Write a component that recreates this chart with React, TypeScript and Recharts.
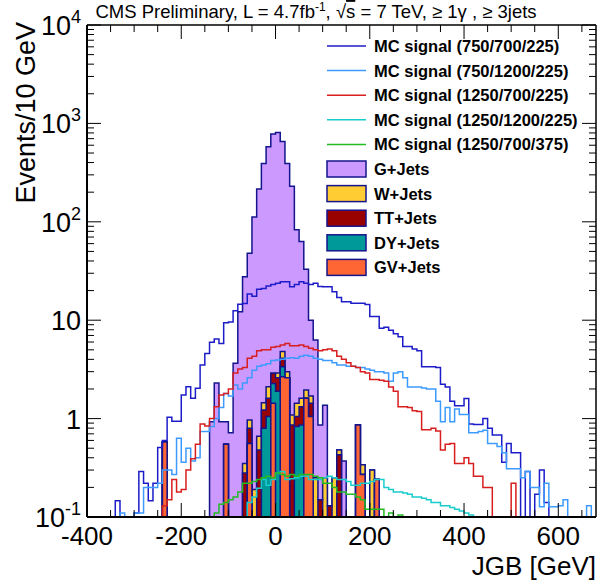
import React from 'react';
import { ComposedChart, Area, Line, XAxis, YAxis, Legend } from 'recharts';

const FONT = "'Liberation Sans', Arial, Helvetica, sans-serif";

// Histogram binning (GeV)
const BIN_START = -400;
const BIN_WIDTH = 10;
const N_BINS = 108;
const X_MAX = 680;
const Y_FLOOR = 0.1;
const Y_MAX = 10000;

// ---- MC signal histograms (events / 10 GeV), bins from their start edge ----
const sig1Start = -400; // MC signal (750/700/225)
const sig1Values = [
  0.1, 0.1, 0.1, 0.1, 0.1, 0.1, 0.146, 0.1, 0.1, 0.1,
  0.11, 0.29, 0.22, 0.146, 0.22, 0.51, 0.6, 1.03, 0.94, 0.94,
  1.74, 2.11, 1.61, 2.03, 3.5, 4.6, 5.96, 6.45, 5.8, 9.4,
  9.6, 12.5, 14.5, 14.8, 18.5, 17.5, 20.6, 21, 22.3, 23,
  23.7, 24.6, 24.6, 21.9, 23, 24.6, 23.7, 23, 23.7, 22,
  21.9, 21.9, 19.5, 17, 15.4, 15.4, 14.9, 14.9, 14.9, 14.4,
  10.9, 10.9, 8.3, 8.5, 7.9, 7.3, 6.8, 5.4, 5.4, 5.1,
  4.9, 3.37, 3.37, 3.37, 3.3, 2.23, 2.1, 1.5, 1.35, 1.35,
  1.6, 0.88, 0.87, 0.87, 1.0, 0.8, 0.68, 0.68, 0.36, 0.56,
  0.45, 0.45, 0.1, 0.29, 0.1, 0.17, 0.3, 0.14, 0.1, 0.1,
];
const sig2Start = -400; // MC signal (750/1200/225)
const sig2Values = [
  0.1, 0.1, 0.1, 0.1, 0.1, 0.1, 0.1, 0.11, 0.1, 0.1,
  0.11, 0.11, 0.2, 0.2, 0.2, 0.22, 0.3, 0.3, 0.27, 0.63,
  0.36, 0.5, 0.37, 0.4, 0.74, 0.74, 0.83, 1.0, 1.3, 1.8,
  1.7, 2.2, 2.0, 2.3, 2.6, 3.1, 3.4, 3.5, 3.6, 3.9,
  3.94, 4.0, 4.1, 4.15, 4.1, 4.3, 4.4, 4.3, 4.1, 4.0,
  3.9, 3.9, 3.7, 3.5, 3.5, 3.4, 3.4, 3.3, 3.3, 3.2,
  3.1, 3.0, 3.0, 2.9, 2.4, 2.9, 3.0, 2.6, 2.1, 2.1,
  2.1, 2.05, 2.0, 2.0, 1.5, 0.93, 1.3, 0.93, 1.25, 1.1,
  1.1, 0.72, 0.72, 0.74, 0.76, 0.56, 0.56, 0.52, 0.45, 0.31,
  0.31, 0.31, 0.25, 0.29, 0.2, 0.2, 0.127, 0.22, 0.127, 0.127,
  0.13, 0.15, 0.1, 0.1, 0.1, 0.1, 0.13, 0.1,
];
const sig3Start = -250; // MC signal (1250/700/225)
const sig3Values = [
  0.1, 0.13, 0.15, 0.24, 0.18, 0.19, 0.3, 0.39, 0.55, 0.88,
  0.84, 1.0, 1.32, 1.74, 1.8, 2.0, 2.9, 3.2, 3.3, 4.1,
  4.3, 4.9, 5.0, 5.0, 5.3, 5.4, 5.6, 5.8, 5.5, 5.5,
  5.6, 5.4, 5.2, 5.0, 4.9, 5.0, 5.1, 4.9, 4.3, 4.0,
  3.7, 3.4, 3.3, 3.0, 2.9, 2.5, 2.5, 2.45, 2.4, 2.1,
  1.9, 1.32, 1.32, 1.3, 1.2, 1.18, 0.77, 0.77, 0.8, 0.75,
  0.48, 0.55, 0.56, 0.35, 0.35, 0.4, 0.35, 0.26, 0.26, 0.2,
  0.2, 0.1, 0.1, 0.1, 0.1, 0.22, 0.1,
];
const sig4Start = -70; // MC signal (1250/1200/225)
const sig4Values = [
  0.1, 0.14, 0.16, 0.196, 0.24, 0.21, 0.24, 0.28, 0.29, 0.24,
  0.245, 0.25, 0.26, 0.26, 0.24, 0.24, 0.24, 0.25, 0.26, 0.25,
  0.24, 0.24, 0.23, 0.21, 0.21, 0.22, 0.22, 0.23, 0.24, 0.24,
  0.2, 0.19, 0.18, 0.18, 0.175, 0.17, 0.16, 0.16, 0.155, 0.15,
  0.14, 0.14, 0.13, 0.13, 0.125, 0.12, 0.115, 0.11, 0.105, 0.1,
];
const sig5Start = -140; // MC signal (1250/700/375)
const sig5Values = [
  0.1, 0.11, 0.135, 0.14, 0.15, 0.16, 0.18, 0.22, 0.22, 0.23,
  0.24, 0.25, 0.26, 0.25, 0.28, 0.27, 0.26, 0.27, 0.26, 0.27,
  0.27, 0.27, 0.26, 0.25, 0.22, 0.22, 0.2, 0.18, 0.18, 0.17,
  0.17, 0.16, 0.15, 0.12, 0.12, 0.12, 0.12, 0.1, 0.11, 0.1,
  0.105, 0.1,
];

// ---- Background stack components (bins from -250 to 220 GeV) ----
const bkgStart = -250;
const gvJets = [
  0, 0.58, 0, 0, 0, 0, 0, 0, 0, 0,
  0, 0, 0, 0, 0.55, 0, 0, 0, 0, 0.56,
  0, 0, 0, 0, 1.43, 0, 2.67, 2.6, 0, 0,
  0, 1.61, 1.05, 0, 0, 0, 0, 0, 0, 0,
  0, 0, 0.86, 0.27, 0, 0, 0.24, 0,
];
const dyJets = [
  0, 0, 0, 0, 0, 0, 0, 0, 0, 0,
  0, 0, 0, 0, 0, 0, 0, 0, 0, 0,
  0, 0, 0.8, 1.05, 0.85, 1.9, 0.7, 0, 0, 0.83,
  0.86, 0, 0, 0, 0, 0, 0, 0, 0, 0,
  0, 0, 0, 0, 0, 0, 0, 0,
];
const ttJets = [
  0, 0, 0, 0, 0, 0, 0, 0, 0, 0,
  0, 0, 0, 0, 0, 0, 0, 0, 0.28, 0.24,
  0, 0.48, 0.42, 0.56, 0.61, 0.7, 0.73, 0, 0.86, 0.22,
  0.46, 0, 0.38, 0, 0.15, 0, 0.13, 0, 0.43, 0,
  0, 0, 0, 0, 0, 0, 0, 0,
];
const wJets = [
  0, 0, 0, 0, 0, 0, 0, 0, 0, 0,
  0, 0, 0, 0, 0, 0, 0, 0, 0.07, 0.17,
  0.19, 0.18, 0.23, 0.5, 0, 0.3, 0.7, 0.4, 0.23, 0.38,
  0.29, 0.34, 0.27, 0.25, 0, 0.25, 0, 0.25, 0.05, 0,
  0, 0, 0, 0.07, 0, 0.3, 0, 0,
];
const gJets = [
  0, 0, 0, 0, 0, 0, 0, 0, 0, 0,
  0, 0.93, 2.3, 0.93, 0.38, 0.72, 3.65, 12.2, 27.3, 47,
  111.8, 215, 390, 577, 776, 807, 651, 389, 229, 81.6,
  61.4, 31, 8.3, 6.05, 0.71, 1.12, 0, 0, 0, 0.37,
  0, 0, 0, 0, 0, 0, 0, 0,
];

const xMajorTicks = [-400, -200, 0, 200, 400, 600];

type Entry = { name: string; color: string; kind: 'line' | 'box' };
const legendEntries: Entry[] = [
  { name: 'MC signal (750/700/225)', color: '#1c1cc8', kind: 'line' },
  { name: 'MC signal (750/1200/225)', color: '#3d9bff', kind: 'line' },
  { name: 'MC signal (1250/700/225)', color: '#d81e1e', kind: 'line' },
  { name: 'MC signal (1250/1200/225)', color: '#19cccc', kind: 'line' },
  { name: 'MC signal (1250/700/375)', color: '#22bb22', kind: 'line' },
  { name: 'G+Jets', color: '#cc99ff', kind: 'box' },
  { name: 'W+Jets', color: '#ffcc33', kind: 'box' },
  { name: 'TT+Jets', color: '#990000', kind: 'box' },
  { name: 'DY+Jets', color: '#009999', kind: 'box' },
  { name: 'GV+Jets', color: '#ff6633', kind: 'box' },
];
const OUTLINE = '#14148c';

function expand(start: number, vals: number[]): number[] {
  const out = new Array(N_BINS).fill(0);
  vals.forEach((v, i) => {
    const k = Math.round((start - BIN_START) / BIN_WIDTH) + i;
    if (k >= 0 && k < N_BINS) out[k] = v;
  });
  return out;
}
const clamp = (v: number) => Math.max(v, Y_FLOOR);

const s1 = expand(sig1Start, sig1Values);
const s2 = expand(sig2Start, sig2Values);
const s3 = expand(sig3Start, sig3Values);
const s4 = expand(sig4Start, sig4Values);
const s5 = expand(sig5Start, sig5Values);
const gv = expand(bkgStart, gvJets);
const dy = expand(bkgStart, dyJets);
const tt = expand(bkgStart, ttJets);
const ww = expand(bkgStart, wJets);
const gg = expand(bkgStart, gJets);

const data = Array.from({ length: N_BINS + 1 }, (_, k) => {
  const i = Math.min(k, N_BINS - 1);
  const cGV = gv[i];
  const cDY = cGV + dy[i];
  const cTT = cDY + tt[i];
  const cW = cTT + ww[i];
  const cTot = cW + gg[i];
  return {
    x: BIN_START + k * BIN_WIDTH,
    s1: clamp(s1[i]), s2: clamp(s2[i]), s3: clamp(s3[i]), s4: clamp(s4[i]), s5: clamp(s5[i]),
    cGV: clamp(cGV), cDY: clamp(cDY), cTT: clamp(cTT), cW: clamp(cW), cTot: clamp(cTot),
  };
});

const xTicks: number[] = [];
for (let v = BIN_START; v <= X_MAX; v += 50) xTicks.push(v);
const yTicks: number[] = [];
for (let e = -1; e < 4; e++) for (let m = 1; m < 10; m++) yTicks.push(Number((m * Math.pow(10, e)).toPrecision(3)));
yTicks.push(Y_MAX);

const isDecade = (v: number) => Math.abs(Math.log10(v) - Math.round(Math.log10(v))) < 1e-6;

function BottomTick(props: any) {
  const { x, y, payload } = props;
  const v = payload.value;
  const major = xMajorTicks.includes(v);
  return (
    <g>
      <line x1={x} x2={x} y1={y} y2={y - (major ? 14 : 7)} stroke="#000" strokeWidth={1} />
      {major && (
        <text x={x} y={y + 28} textAnchor="middle" fontFamily={FONT} fontSize={26} fill="#000">
          {String(v)}
        </text>
      )}
    </g>
  );
}
function TopTick(props: any) {
  const { x, y, payload } = props;
  const major = xMajorTicks.includes(payload.value);
  return <line x1={x} x2={x} y1={y} y2={y + (major ? 14 : 7)} stroke="#000" strokeWidth={1} />;
}
function LeftTick(props: any) {
  const { x, y, payload } = props;
  const v = payload.value;
  const major = isDecade(v);
  const e = Math.round(Math.log10(v));
  let label: React.ReactNode = null;
  if (major) {
    if (e === 0 || e === 1) {
      label = (
        <text x={x - 6} y={y + 10} textAnchor="end" fontFamily={FONT} fontSize={27} fill="#000">
          {e === 0 ? '1' : '10'}
        </text>
      );
    } else {
      label = (
        <text x={x - 6} y={y + 10} textAnchor="end" fontFamily={FONT} fontSize={27} fill="#000">
          10<tspan dy={-12} fontSize={18}>{String(e)}</tspan>
        </text>
      );
    }
  }
  return (
    <g>
      <line x1={x} x2={x + (major ? 14 : 7)} y1={y} y2={y} stroke="#000" strokeWidth={1} />
      {label}
    </g>
  );
}
function RightTick(props: any) {
  const { x, y, payload } = props;
  const major = isDecade(payload.value);
  return <line x1={x} x2={x - (major ? 14 : 7)} y1={y} y2={y} stroke="#000" strokeWidth={1} />;
}

function LegendBox() {
  const x0 = 327;
  const y0 = 46;
  const dy = 24.6;
  return (
    <svg width={606} height={583} style={{ position: 'absolute', left: 0, top: 0, pointerEvents: 'none' }}>
      {legendEntries.map((e, i) => {
        const cy = y0 + i * dy;
        return (
          <g key={e.name}>
            {e.kind === 'line' ? (
              <line x1={x0} x2={x0 + 39} y1={cy} y2={cy} stroke={e.color} strokeWidth={1.5} />
            ) : (
              <rect x={x0} y={cy - 8} width={39} height={16} fill={e.color} stroke={OUTLINE} strokeWidth={1.5} />
            )}
            <text x={x0 + 47} y={cy + 6} fontFamily={FONT} fontWeight="bold" fontSize={16.5} fill="#000">
              {e.name}
            </text>
          </g>
        );
      })}
    </svg>
  );
}

export default function App() {
  return (
    <div style={{ position: 'absolute', left: 0, top: 0, width: 606, height: 583, background: '#fff' }}>
      <ComposedChart
        width={606}
        height={583}
        data={data}
        margin={{ top: 20, right: 5, bottom: 36, left: 27 }}
      >
        <Area dataKey="cTot" type="stepAfter" baseValue={Y_FLOOR} fill="#cc99ff" fillOpacity={1} stroke={OUTLINE} strokeWidth={1.5} dot={false} activeDot={false} isAnimationActive={false} />
        <Area dataKey="cW" type="stepAfter" baseValue={Y_FLOOR} fill="#ffcc33" fillOpacity={1} stroke={OUTLINE} strokeWidth={1.5} dot={false} activeDot={false} isAnimationActive={false} />
        <Area dataKey="cTT" type="stepAfter" baseValue={Y_FLOOR} fill="#990000" fillOpacity={1} stroke={OUTLINE} strokeWidth={1.5} dot={false} activeDot={false} isAnimationActive={false} />
        <Area dataKey="cDY" type="stepAfter" baseValue={Y_FLOOR} fill="#009999" fillOpacity={1} stroke={OUTLINE} strokeWidth={1.5} dot={false} activeDot={false} isAnimationActive={false} />
        <Area dataKey="cGV" type="stepAfter" baseValue={Y_FLOOR} fill="#ff6633" fillOpacity={1} stroke={OUTLINE} strokeWidth={1.5} dot={false} activeDot={false} isAnimationActive={false} />
        <Line dataKey="s1" type="stepAfter" stroke="#1c1cc8" strokeWidth={1.5} dot={false} activeDot={false} isAnimationActive={false} />
        <Line dataKey="s2" type="stepAfter" stroke="#3d9bff" strokeWidth={1.5} dot={false} activeDot={false} isAnimationActive={false} />
        <Line dataKey="s3" type="stepAfter" stroke="#d81e1e" strokeWidth={1.5} dot={false} activeDot={false} isAnimationActive={false} />
        <Line dataKey="s4" type="stepAfter" stroke="#19cccc" strokeWidth={1.5} dot={false} activeDot={false} isAnimationActive={false} />
        <Line dataKey="s5" type="stepAfter" stroke="#22bb22" strokeWidth={1.5} dot={false} activeDot={false} isAnimationActive={false} />
        <XAxis
          xAxisId={0}
          dataKey="x"
          type="number"
          domain={[BIN_START, X_MAX]}
          allowDataOverflow
          ticks={xTicks}
          interval={0}
          tickSize={0}
          tickMargin={0}
          height={30}
          tick={<BottomTick />}
          axisLine={{ stroke: '#000', strokeWidth: 2 }}
          tickLine={false}
        />
        <XAxis
          xAxisId="top"
          orientation="top"
          dataKey="x"
          type="number"
          domain={[BIN_START, X_MAX]}
          allowDataOverflow
          ticks={xTicks}
          interval={0}
          tickSize={0}
          tickMargin={0}
          height={5}
          tick={<TopTick />}
          axisLine={{ stroke: '#000', strokeWidth: 1.5 }}
          tickLine={false}
        />
        <YAxis
          yAxisId={0}
          type="number"
          scale="log"
          domain={[Y_FLOOR, Y_MAX]}
          allowDataOverflow
          ticks={yTicks}
          interval={0}
          tickSize={0}
          tickMargin={0}
          width={60}
          tick={<LeftTick />}
          axisLine={{ stroke: '#000', strokeWidth: 2 }}
          tickLine={false}
        />
        <YAxis
          yAxisId="right"
          orientation="right"
          type="number"
          scale="log"
          domain={[Y_FLOOR, Y_MAX]}
          allowDataOverflow
          ticks={yTicks}
          interval={0}
          tickSize={0}
          tickMargin={0}
          width={5}
          tick={<RightTick />}
          axisLine={{ stroke: '#000', strokeWidth: 1.5 }}
          tickLine={false}
        />
        <Legend layout="vertical" align="center" verticalAlign="middle" content={() => null} />
      </ComposedChart>
      <LegendBox />
      <svg width={606} height={583} style={{ position: 'absolute', left: 0, top: 0, pointerEvents: 'none' }}>
        <text x={316} y={18} textAnchor="middle" fontFamily={FONT} fontSize={18.5} fill="#000">
          CMS Preliminary, L = 4.7fb<tspan dy={-7} fontSize={12}>-1</tspan>
          <tspan dy={7}>, √</tspan>
          <tspan style={{ textDecoration: 'overline' }}>s</tspan>
          <tspan> = 7 TeV, ≥ 1γ , ≥ 3jets</tspan>
        </text>
        <text transform="translate(35, 22) rotate(-90)" textAnchor="end" fontFamily={FONT} fontSize={27} fill="#000">
          Events/10 GeV
        </text>
        <text x={596} y={575} textAnchor="end" fontFamily={FONT} fontSize={26} fill="#000">
          JGB [GeV]
        </text>
      </svg>
    </div>
  );
}
